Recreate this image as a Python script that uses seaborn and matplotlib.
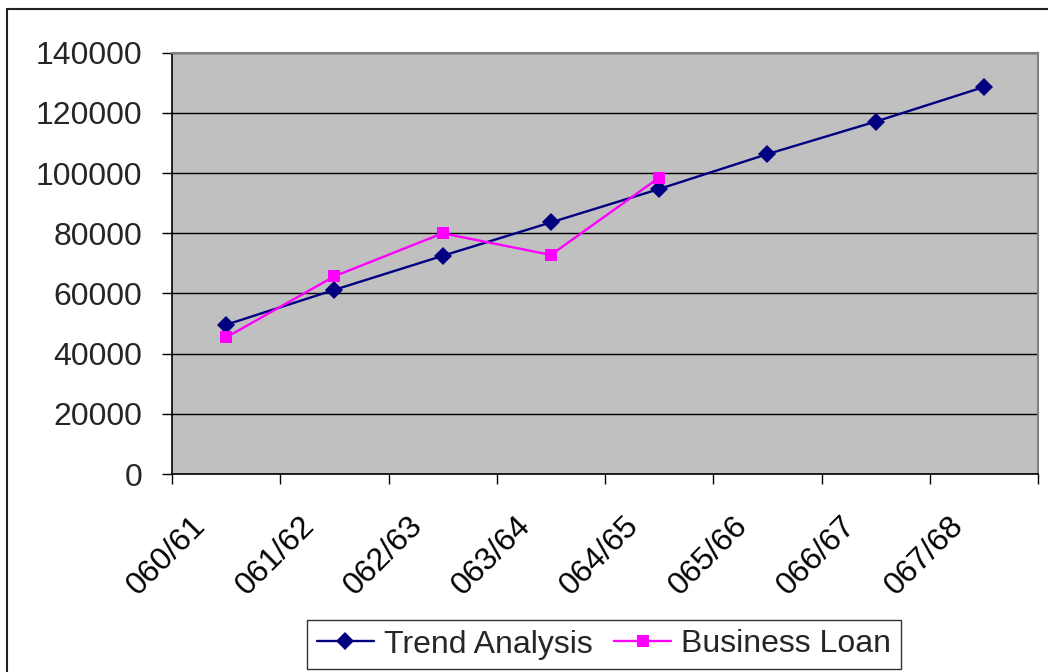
import matplotlib
matplotlib.use("Agg")
import matplotlib.pyplot as plt
from matplotlib.patches import Rectangle
from matplotlib.transforms import ScaledTranslation
import seaborn as sns
import pandas as pd

# Fiscal years (category labels)
years = ["060/61", "061/62", "062/63", "063/64", "064/65", "065/66", "066/67", "067/68"]
# Linear trend of business loan
trend_analysis = [49600, 61200, 72500, 83600, 94700, 106300, 117100, 128600]
# Actual business loan
business_loan = [45400, 65700, 80000, 72800, 98500]

series_names = ["Trend Analysis", "Business Loan"]

rows = []
for i, v in enumerate(trend_analysis):
    rows.append({"pos": i, "value": v, "series": series_names[0]})
for i, v in enumerate(business_loan):
    rows.append({"pos": i, "value": v, "series": series_names[1]})
df = pd.DataFrame(rows)

sns.set_theme(style="white")
plt.rcParams["font.family"] = ["Liberation Sans", "DejaVu Sans"]

FS = 23
LW = 1.7
DPI = 100
fig = plt.figure(figsize=(10.48, 6.72), dpi=DPI)
ax = fig.add_axes([172 / 1048, 1 - 474 / 672, (1038 - 172) / 1048, (474 - 52.7) / 672])
ax.set_facecolor("#C0C0C0")

palette = {"Trend Analysis": "#000080", "Business Loan": "#FF00FF"}
markers = {"Trend Analysis": "D", "Business Loan": "s"}
marker_sizes = {"D": 9.5, "s": 8.5}
sns.lineplot(data=df, x="pos", y="value", hue="series", style="series",
             markers=markers, dashes=False, palette=palette, ax=ax,
             linewidth=LW, markeredgewidth=0, legend=False)
for line in ax.get_lines():
    m = line.get_marker()
    if m in marker_sizes:
        line.set_markersize(marker_sizes[m])

ax.set_xlim(-0.5, len(years) - 0.5)
ax.set_ylim(0, 140000)
ax.set_yticks(range(0, 140001, 20000))
ax.yaxis.grid(True, color="black", linewidth=1.0)
ax.xaxis.grid(False)
ax.set_axisbelow(True)

ax.set_xticks(range(len(years)))
ax.set_xticklabels(years, rotation=45, ha="right", va="baseline", rotation_mode="anchor")
ax.set_xticks([i - 0.5 for i in range(len(years) + 1)], minor=True)
ax.tick_params(axis="x", which="major", length=0, pad=38, labelsize=FS, colors="black")
ax.tick_params(axis="x", which="minor", length=7.2, width=1, color="black", direction="out",
               bottom=True)
ax.tick_params(axis="y", length=7.2, width=1, color="black", direction="out",
               left=True, pad=14, labelsize=FS)
# rotated category labels sit slightly left of the category centre
shift = ScaledTranslation(-19 / DPI, 0, fig.dpi_scale_trans)
for lab in ax.get_xticklabels():
    lab.set_transform(lab.get_transform() + shift)
ax.set_xlabel("")
ax.set_ylabel("")

for side in ["left", "bottom"]:
    ax.spines[side].set_color("black")
    ax.spines[side].set_linewidth(1.2)
for side in ["top", "right"]:
    ax.spines[side].set_color("#808080")
    ax.spines[side].set_linewidth(1.5)

handles = [
    plt.Line2D([], [], color="#000080", marker="D", markersize=marker_sizes["D"],
               markeredgewidth=0, linewidth=LW, label=series_names[0]),
    plt.Line2D([], [], color="#FF00FF", marker="s", markersize=marker_sizes["s"],
               markeredgewidth=0, linewidth=LW, label=series_names[1]),
]
leg = fig.legend(handles=handles, loc="center", bbox_to_anchor=(604 / 1048, 1 - 644.5 / 672),
                 ncol=2, frameon=True, fancybox=False, shadow=False, fontsize=FS,
                 handlelength=1.78, handletextpad=0.31, columnspacing=0.69,
                 borderpad=0.3, borderaxespad=0)
leg.get_frame().set_edgecolor("black")
leg.get_frame().set_linewidth(1.0)

# outer chart frame
fig.patches.append(Rectangle((7 / 1048, -0.1), 1.2, 1 - 9 / 672 + 0.1,
                             transform=fig.transFigure, fill=False,
                             edgecolor="#202020", linewidth=1.5))

fig.savefig("out.png", dpi=DPI)
